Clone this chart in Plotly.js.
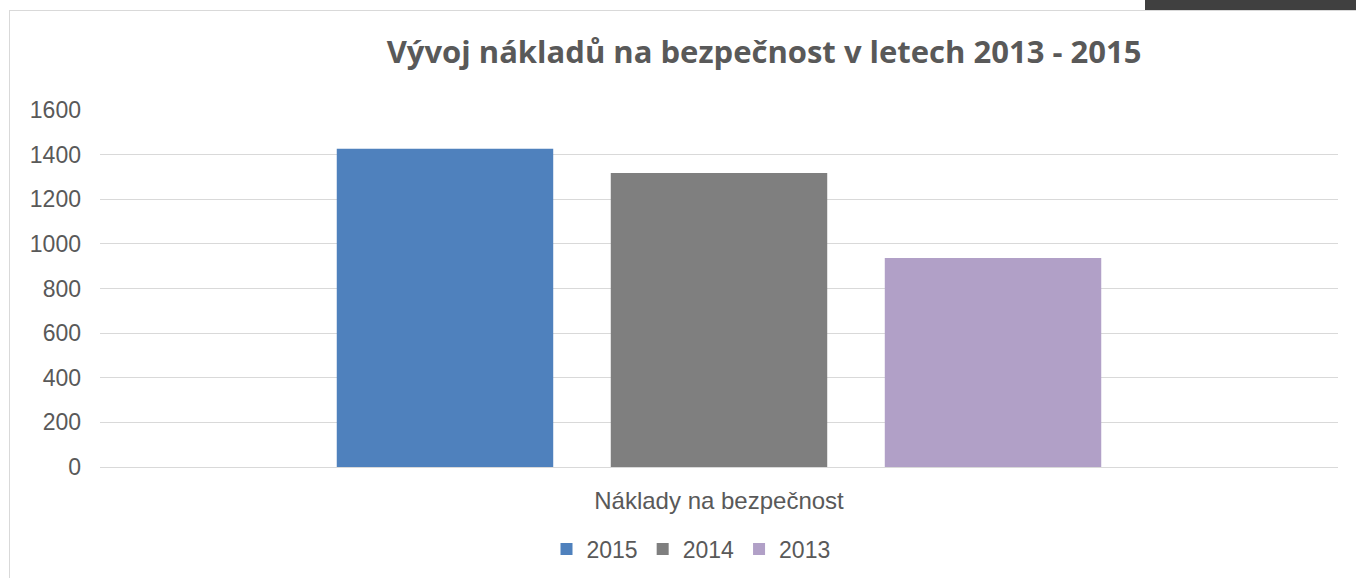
<!DOCTYPE html>
<html>
<head>
<meta charset="utf-8">
<script src="https://cdn.plot.ly/plotly-3.0.1.min.js"></script>
<style>
  html, body { margin: 0; padding: 0; background: #ffffff; overflow: hidden; }
  #wrap { position: relative; width: 1356px; height: 578px; }
  #frame { position: absolute; left: 9px; top: 10px; width: 1400px; height: 700px; border: 1px solid #d9d9d9; box-sizing: border-box; pointer-events: none; }
  #tab { position: absolute; left: 1145px; top: 0; width: 211px; height: 10px; background: #404040; }
  #chart { position: absolute; left: 0; top: 0; width: 1356px; height: 578px; }
</style>
</head>
<body>
<div id="wrap">
  <div id="frame"></div>
  <div id="tab"></div>
  <div id="chart"></div>
</div>
<script>
const categories = ["Náklady na bezpečnost"];
const seriesNames = ["2015", "2014", "2013"];
const values2015 = [1426];
const values2014 = [1318];
const values2013 = [937];
const colors = ["#4f81bd", "#7f7f7f", "#b1a0c7"];
const yTicks = [0, 200, 400, 600, 800, 1000, 1200, 1400, 1600];

const seriesValues = [values2015, values2014, values2013];
const traces = seriesNames.map((name, i) => ({
  type: "bar",
  name: name,
  x: categories,
  y: seriesValues[i],
  marker: { color: colors[i], line: { width: 0 } },
  hoverinfo: "skip"
}));

const font = "Arial, 'Liberation Sans', sans-serif";
const layout = {
  width: 1356,
  height: 578,
  margin: { l: 100, r: 18, t: 110, b: 111, autoexpand: false },
  paper_bgcolor: "rgba(0,0,0,0)",
  plot_bgcolor: "rgba(0,0,0,0)",
  barmode: "group",
  bargap: 0.336,
  bargroupgap: 0.21,
  title: {
    text: "<b>Vývoj nákladů na bezpečnost v letech 2013 - 2015</b>",
    font: { family: "'Open Sans', sans-serif", size: 31, color: "#595959" },
    x: (764 / 1356), xanchor: "center", xref: "container",
    y: 1 - 52 / 578, yanchor: "middle", yref: "container"
  },
  xaxis: {
    type: "category",
    showgrid: false,
    showline: true,
    linecolor: "#d9d9d9",
    linewidth: 1,
    ticks: "",
    ticklabelstandoff: 12,
    tickfont: { family: font, size: 24, color: "#595959" },
    fixedrange: true
  },
  yaxis: {
    range: [0, 1600],
    tickvals: yTicks,
    ticktext: yTicks.map(String),
    showgrid: true,
    gridcolor: "#d9d9d9",
    gridwidth: 1,
    zeroline: false,
    showline: false,
    ticks: "",
    ticklabelstandoff: 18,
    tickfont: { family: font, size: 23, color: "#595959" },
    fixedrange: true
  },
  showlegend: true,
  legend: {
    orientation: "h",
    x: 691 / 1356,
    xref: "container",
    xanchor: "center",
    y: 1 - 549 / 578,
    yref: "container",
    yanchor: "middle",
    font: { family: font, size: 23, color: "#595959" },
    itemwidth: 30,
    traceorder: "normal"
  }
};

Plotly.newPlot("chart", traces, layout, { displayModeBar: false, staticPlot: true });
</script>
</body>
</html>
